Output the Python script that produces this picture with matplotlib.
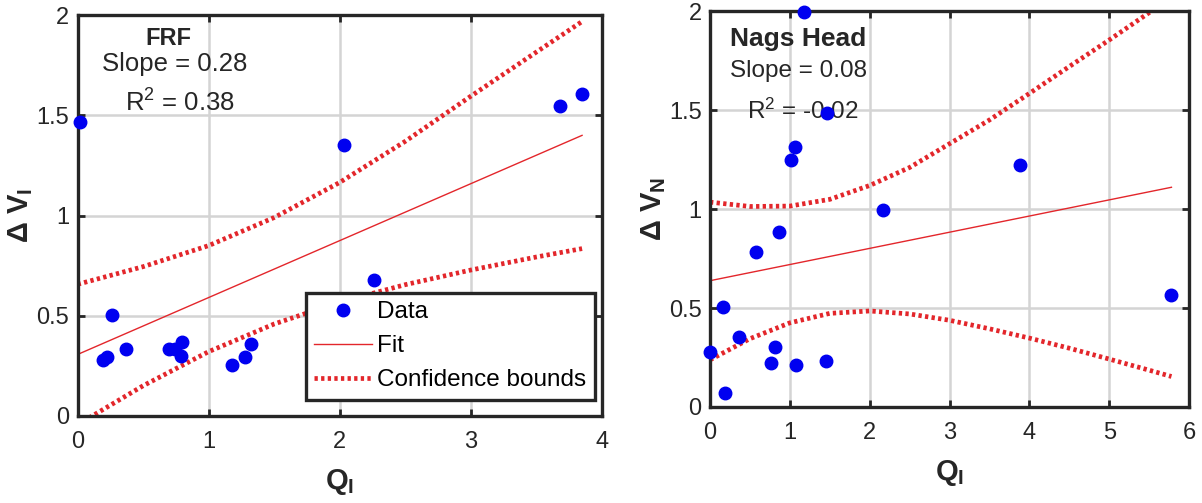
import numpy as np
import matplotlib
matplotlib.use('Agg')
from matplotlib import pyplot as plt

plt.rcParams['font.family'] = ['Liberation Sans', 'DejaVu Sans']
plt.rcParams['mathtext.fontset'] = 'custom'
plt.rcParams['mathtext.rm'] = 'Liberation Sans'
plt.rcParams['mathtext.it'] = 'Liberation Sans:italic'
plt.rcParams['mathtext.bf'] = 'Liberation Sans:bold'

# FRF data
frf_q = [0.015, 0.19, 0.226, 0.265, 0.37, 0.70, 0.74, 0.80, 0.79, 1.175, 1.28, 1.326, 2.03, 2.26, 3.68, 3.85]
frf_dv = [1.469, 0.279, 0.295, 0.506, 0.335, 0.335, 0.332, 0.37, 0.30, 0.254, 0.295, 0.357, 1.353, 0.68, 1.544, 1.607]
frf_fit_q = [0.0, 3.85]
frf_fit_dv = [0.307, 1.40]
frf_bq = [0.0, 0.5, 1.0, 1.5, 2.0, 2.5, 3.0, 3.5, 3.85]
frf_upper = [0.657, 0.745, 0.850, 0.990, 1.165, 1.370, 1.595, 1.815, 1.968]
frf_lower = [-0.043, 0.151, 0.321, 0.459, 0.568, 0.655, 0.728, 0.793, 0.835]

# Nags Head data
nh_q = [1.178, 1.466, 1.062, 1.01, 3.885, 2.163, 0.865, 0.577, 0.159, 5.774, 0.365, 0.0, 0.8125, 0.76, 1.072, 1.452, 0.183]
nh_dv = [1.997, 1.485, 1.312, 1.25, 1.225, 0.993, 0.884, 0.782, 0.507, 0.564, 0.352, 0.28, 0.302, 0.221, 0.213, 0.230, 0.070]
nh_fit_q = [0.0, 5.78]
nh_fit_dv = [0.638, 1.110]
nh_bq = [0.0, 0.5, 1.0, 1.5, 2.0, 2.5, 3.0, 3.5, 4.0, 4.5, 5.0, 5.5, 5.78]
nh_upper = [1.035, 1.013, 1.015, 1.049, 1.119, 1.210, 1.330, 1.450, 1.584, 1.720, 1.854, 1.992, 2.066]
nh_lower = [0.238, 0.345, 0.425, 0.473, 0.485, 0.470, 0.438, 0.395, 0.348, 0.297, 0.242, 0.186, 0.154]

dark = '#262626'
red = '#e3262b'
dots = (0, (0.7, 0.7))

fig = plt.figure(figsize=(12.02, 5.03), dpi=100)
ax1 = fig.add_axes([0.0646, 0.173, 0.436, 0.797])
ax2 = fig.add_axes([0.5907, 0.1909, 0.3985, 0.787])


def style(ax, xmax, xticks):
    ax.set_xlim(0, xmax)
    ax.set_ylim(0, 2)
    ax.set_xticks(xticks)
    ax.set_yticks([0, 0.5, 1, 1.5, 2])
    ax.set_yticklabels(['0', '0.5', '1', '1.5', '2'])
    ax.grid(True, color='#d4d4d4', linewidth=1.8)
    ax.set_axisbelow(True)
    ax.tick_params(direction='in', top=True, right=True, length=5, width=2,
                   labelsize=17, colors=dark)
    ax.tick_params(axis='x', pad=11)
    ax.tick_params(axis='y', pad=6)
    for s in ax.spines.values():
        s.set_linewidth(2.4)
        s.set_color(dark)
    ax.set_xlabel(r'$\mathbf{Q_I}$', fontsize=21, color=dark, labelpad=10)


# left panel
ax1.plot(frf_q, frf_dv, 'o', color='#0000f0', ms=9, clip_on=False, zorder=5, label='Data')
ax1.plot(frf_fit_q, frf_fit_dv, '-', color=red, lw=1, label='Fit')
ax1.plot(frf_bq, frf_upper, linestyle=dots, color=red, lw=3.4, label='Confidence bounds')
ax1.plot(frf_bq, frf_lower, linestyle=dots, color=red, lw=3.4)
style(ax1, 4, [0, 1, 2, 3, 4])
ax1.set_ylabel(r'$\mathbf{\Delta\ V_I}$', fontsize=21, color=dark, labelpad=1)
ax1.text(0.173, 0.942, 'FRF', transform=ax1.transAxes, fontsize=17, fontweight='bold',
         ha='center', va='center', color=dark)
ax1.text(0.186, 0.877, 'Slope = 0.28', transform=ax1.transAxes, fontsize=18.5,
         ha='center', va='center', color=dark)
ax1.text(0.196, 0.78, r'R$^2$ = 0.38', transform=ax1.transAxes, fontsize=18.5,
         ha='center', va='center', color=dark)
leg = ax1.legend(loc='lower right', bbox_to_anchor=(0.987, 0.04), borderaxespad=0,
                 fontsize=17.5, fancybox=False, framealpha=1, edgecolor=dark,
                 handlelength=2.4, handletextpad=0.2, borderpad=0.35, labelspacing=0.5)
leg.get_frame().set_linewidth(2.4)

# right panel
ax2.plot(nh_q, nh_dv, 'o', color='#0000f0', ms=9, clip_on=False, zorder=5)
ax2.plot(nh_fit_q, nh_fit_dv, '-', color=red, lw=1)
ax2.plot(nh_bq, nh_upper, linestyle=dots, color=red, lw=3.4)
ax2.plot(nh_bq, nh_lower, linestyle=dots, color=red, lw=3.4)
style(ax2, 6, [0, 1, 2, 3, 4, 5, 6])
ax2.set_ylabel(r'$\mathbf{\Delta\ V_N}$', fontsize=21, color=dark, labelpad=1)
ax2.text(0.184, 0.93, 'Nags Head', transform=ax2.transAxes, fontsize=19, fontweight='bold',
         ha='center', va='center', color=dark)
ax2.text(0.184, 0.848, 'Slope = 0.08', transform=ax2.transAxes, fontsize=17.5,
         ha='center', va='center', color=dark)
ax2.text(0.193, 0.747, r'R$^2$ = -0.02', transform=ax2.transAxes, fontsize=17.5,
         ha='center', va='center', color=dark)

fig.savefig('out.png', dpi=100)
